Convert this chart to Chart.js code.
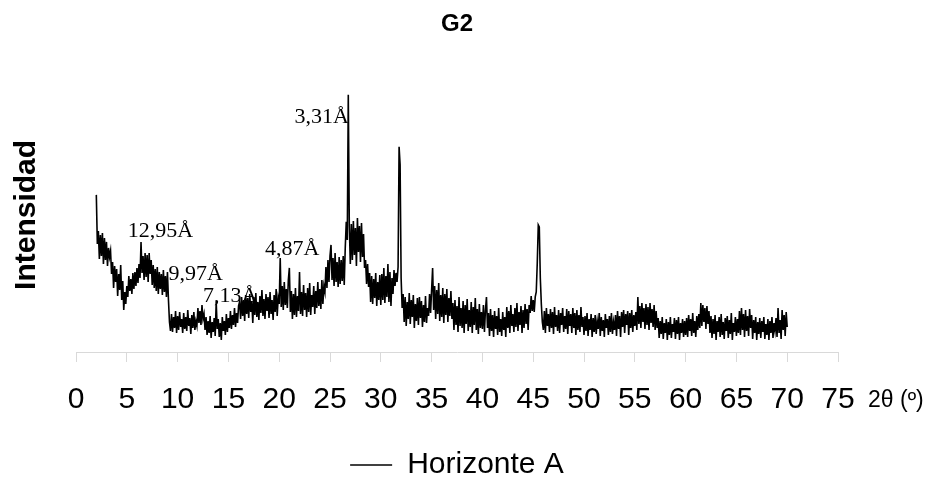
<!DOCTYPE html>
<html lang="es">
<head>
<meta charset="UTF-8">
<title>G2</title>
<style>
  html, body { margin: 0; padding: 0; background: #fff; }
  #chart-container { position: relative; width: 931px; height: 477px; }
</style>
</head>
<body>
<div id="chart-container"><canvas id="xrd"></canvas></div>
<script src="https://cdn.jsdelivr.net/npm/chart.js@4.4.1/dist/chart.umd.min.js"></script>
<script>
  // diffractogram G2, horizonte A: 2θ scan from 2° to 70°, one reading every 0.1°
  var scanStart = 2.0;
  var scanStep = 0.1;

  // intensities (arbitrary units), in 2θ blocks
  var scan02to10 = [
    157,108,121, 93,117, 96,119, 88,114, 92,
    110, 86,104, 95,101, 78, 90, 64, 86, 70,
     83, 56, 78, 62, 87, 52, 71, 42, 60, 48,
     66, 55, 76, 61, 73, 58, 79, 63, 80, 66,
     84, 69, 88, 74,110, 79, 96, 72, 99, 75,
     97, 70, 99, 78, 92, 67, 87, 64, 83, 61,
     85, 58, 80, 63, 78, 57, 82, 60, 76, 55,
     80, 52, 30, 21, 38, 20, 35, 24, 41, 19
  ];
  var scan10to20 = [
     36, 22, 40, 25, 33, 19, 39, 23, 35, 21,
     42, 26, 34, 18, 37, 24, 40, 22, 31, 26,
     44, 29, 41, 27, 47, 33, 38, 22, 35, 17,
     31, 19, 36, 14, 30, 20, 34, 16, 50, 23,
     33, 15, 29, 12, 35, 21, 31, 17, 38, 20,
     34, 24, 41, 23, 37, 27, 44, 25, 39, 29,
     46, 50, 33, 55, 36, 52, 31, 57, 38, 54,
     34, 58, 40, 51, 29, 55, 37, 59, 35, 50,
     32, 56, 39, 62, 36, 53, 33, 58, 41, 55,
     34, 60, 38, 52, 32, 57, 40, 63, 36, 54
  ];
  var scan20to30 = [
     48, 94, 45, 66, 42, 70, 47, 63, 44, 72,
     84, 40, 61, 33, 58, 37, 64, 35, 56, 41,
     80, 38, 60, 36, 67, 42, 59, 35, 64, 40,
     69, 37, 57, 45, 66, 38, 61, 44, 70, 46,
     63, 43, 72, 48, 66, 60, 85, 64, 92, 70,
     96,107, 72, 94, 66, 99, 70, 90, 65, 95,
     68, 92, 71, 96, 67,104,130,112,257,126,
     88,128, 92,131, 97,124, 86,134,100,126,
     90,129, 95,118, 84, 92, 68, 88, 65, 79,
     50, 76, 48, 73, 54, 79, 46, 70, 52, 77
  ];
  var scan30to40 = [
     47, 78, 52, 84, 49, 76, 55, 88, 50, 80,
     46, 74, 58, 82, 66, 79, 70, 85,205,187,
     74, 44, 58, 30, 55, 26, 50, 33, 59, 28,
     52, 35, 57, 24, 48, 31, 54, 27, 55, 34,
     51, 25, 47, 30, 56, 29, 44, 36, 58, 39,
     62, 84, 42, 66, 33, 62, 38, 69, 31, 57,
     35, 64, 29, 58, 37, 63, 30, 54, 36, 61,
     33, 49, 22, 52, 27, 46, 20, 55, 26, 44,
     24, 51, 19, 47, 28, 53, 21, 42, 25, 50,
     19, 45, 27, 54, 22, 43, 18, 48, 24, 40
  ];
  var scan40to50 = [
     23, 47, 20, 42, 55, 24, 39, 16, 43, 21,
     37, 15, 41, 23, 36, 17, 44, 20, 33, 16,
     40, 22, 35, 15, 45, 24, 41, 19, 47, 26,
     38, 20, 44, 25, 49, 21, 40, 27, 46, 19,
     42, 24, 48, 28, 43, 22, 47, 39, 56, 41,
     52, 40, 55, 60, 89,127,125, 74, 48, 30,
     22, 41, 19, 44, 26, 38, 20, 43, 24, 40,
     18, 45, 25, 37, 21, 42, 19, 39, 27, 44,
     20, 36, 23, 43, 18, 41, 26, 38, 19, 44,
     24, 39, 17, 42, 22, 37, 20, 45, 25, 35
  ];
  var scan50to60 = [
     17, 36, 21, 39, 16, 33, 22, 38, 15, 34,
     20, 37, 18, 31, 23, 39, 16, 35, 21, 32,
     15, 38, 24, 33, 17, 36, 20, 39, 18, 30,
     22, 37, 16, 41, 23, 36, 15, 40, 25, 42,
     19, 38, 27, 41, 17, 39, 24, 42, 20, 37,
     26, 40, 22, 55, 28, 46, 24, 49, 30, 44,
     23, 48, 27, 45, 22, 49, 29, 43, 25, 47,
     22, 41, 24, 34, 14, 31, 18, 35, 13, 29,
     19, 33, 12, 30, 17, 35, 14, 28, 20, 34,
     13, 32, 18, 35, 12, 29, 19, 33, 15, 31
  ];
  var scan60to70 = [
     17, 34, 15, 37, 21, 33, 16, 39, 19, 31,
     15, 36, 22, 38, 24, 49, 26, 47, 30, 44,
     23, 46, 28, 41, 19, 36, 14, 33, 18, 37,
     12, 31, 20, 35, 15, 38, 17, 30, 13, 34,
     21, 36, 14, 32, 18, 39, 12, 29, 20, 35,
     16, 33, 19, 41, 17, 44, 22, 38, 15, 42,
     21, 36, 16, 43, 24, 37, 13, 32, 19, 35,
     12, 30, 18, 34, 14, 31, 20, 35, 13, 28,
     17, 33, 12, 31, 19, 35, 14, 29, 21, 34,
     15, 44, 19, 32, 13, 42, 22, 37, 16, 40,
     25
  ];

  // d-spacing labels and where they sit (2θ, intensity)
  var peakLabels = ['12,95Å', '9,97Å', '7,13Å', '4,87Å', '3,31Å'];
  var peakLabel2Theta = [5.1, 9.1, 12.5, 18.6, 21.5];
  var peakLabelIntensity = [115, 72, 50, 97, 229];

  var xAxisUnit = '2θ (º)';
  var seriesName = 'Horizonte A';

  var intensities = [].concat(scan02to10, scan10to20, scan20to30, scan30to40, scan40to50, scan50to60, scan60to70);
  var points = intensities.map(function (v, i) {
    return { x: +(scanStart + i * scanStep).toFixed(1), y: v };
  });

  Chart.defaults.font.family = "'Liberation Sans', Arial, sans-serif";
  Chart.defaults.color = '#000';

  var annotationsPlugin = {
    id: 'peakLabels',
    afterDatasetsDraw: function (chart) {
      var ctx = chart.ctx, x = chart.scales.x, y = chart.scales.y;
      ctx.save();
      ctx.fillStyle = '#000';
      ctx.textAlign = 'left';
      ctx.textBaseline = 'alphabetic';
      ctx.font = "22px 'Liberation Serif', 'Times New Roman', serif";
      peakLabels.forEach(function (t, i) {
        ctx.fillText(t, x.getPixelForValue(peakLabel2Theta[i]), y.getPixelForValue(peakLabelIntensity[i]));
      });
      // unit sits right of the last tick label
      ctx.font = "23px 'Liberation Sans', Arial, sans-serif";
      ctx.fillText(xAxisUnit, x.right + 30, x.top + 55);
      ctx.restore();
    }
  };

  new Chart(document.getElementById('xrd'), {
    type: 'line',
    data: {
      datasets: [{
        label: seriesName,
        data: points,
        borderColor: '#000',
        backgroundColor: '#000',
        borderWidth: 1.6,
        pointRadius: 0,
        pointStyle: 'line',
        tension: 0
      }]
    },
    options: {
      responsive: true,
      maintainAspectRatio: false,
      animation: false,
      layout: { padding: { left: 0, right: 93, top: 0, bottom: -13 } },
      scales: {
        x: {
          type: 'linear',
          min: 0,
          max: 75,
          ticks: { stepSize: 5, padding: 20, autoSkip: false, maxRotation: 0, font: { size: 30 }, color: '#000' },
          grid: { drawOnChartArea: false, drawTicks: true, tickLength: 10, color: '#d9d9d9' },
          border: { color: '#d9d9d9' }
        },
        y: {
          min: 0,
          max: 274,
          ticks: { display: false },
          grid: { display: false, drawTicks: false },
          border: { display: false },
          title: {
            display: true,
            text: 'Intensidad',
            color: '#000',
            font: { size: 30, weight: 'bold' },
            padding: { top: 9, bottom: 31 }
          }
        }
      },
      plugins: {
        title: {
          display: true,
          text: 'G2',
          fullSize: false,
          color: '#000',
          font: { size: 24, weight: 'bold' },
          padding: { top: 10, bottom: 39 }
        },
        legend: {
          position: 'bottom',
          fullSize: false,
          labels: {
            usePointStyle: true,
            pointStyle: 'line',
            pointStyleWidth: 42,
            padding: 12,
            color: '#000',
            font: { size: 30 }
          }
        },
        tooltip: { enabled: false }
      }
    },
    plugins: [annotationsPlugin]
  });
</script>
</body>
</html>
